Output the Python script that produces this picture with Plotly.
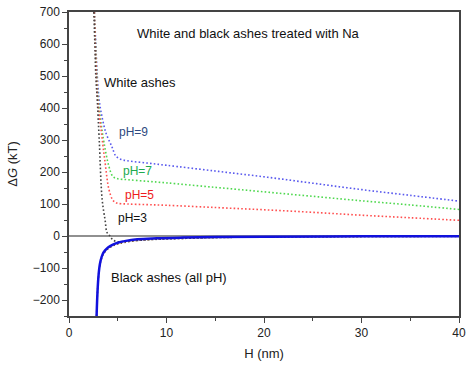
import plotly.graph_objects as go

# White ashes (dotted), H in nm, ΔG in kT
h_w9 = [2.6, 2.75, 2.9, 3.1, 3.4, 3.8, 4.4, 4.8, 5.3, 6, 8, 10, 15, 20, 25, 30, 35, 40]
g_w9 = [700, 600, 500, 424, 370, 321, 279, 250, 240, 235, 228, 221, 203, 185, 165, 145, 127, 109]

h_w7 = [2.6, 2.72, 2.85, 3.0, 3.3, 3.6, 4.1, 4.5, 5.0, 6, 8, 10, 15, 20, 25, 30, 35, 40]
g_w7 = [700, 600, 500, 424, 350, 290, 217, 186, 179, 176, 171, 166, 152, 138, 124, 110, 97, 83]

h_w5 = [2.6, 2.7, 2.82, 2.95, 3.3, 3.7, 4.1, 4.5, 4.9, 6, 8, 10, 15, 20, 25, 30, 35, 40]
g_w5 = [700, 600, 500, 424, 330, 230, 145, 112, 103, 100, 98, 96, 89, 82, 74, 65, 57, 49]

h_w3 = [2.55, 2.65, 2.75, 2.9, 3.1, 3.4, 3.7, 3.9, 4.2, 4.5, 5, 6, 8, 10, 15, 20, 30, 40]
g_w3 = [700, 600, 500, 424, 300, 114, 50, 11, 0, -12, -18, -16, -12, -9, -5, -3, -1.5, -0.8]

# Black ashes (all pH)
h_b = [2.83, 2.9, 3.0, 3.1, 3.25, 3.45, 3.7, 4.0, 4.5, 5.0, 5.7, 7, 9, 11.7, 15, 20, 30, 40]
g_b = [-250, -190, -135, -102, -76, -57, -45, -36, -27, -21, -16, -10, -7, -5, -3.5, -2.2, -1, -0.5]
g_b_low = [-250, -190, -136, -104, -79, -61, -49, -40, -31, -25, -20, -14, -10, -7.5, -5, -3.2, -1.8, -1]

fig = go.Figure()

dot_style = dict(dash="1.6px,2.2px", width=1.6)
fig.add_trace(go.Scatter(x=h_w9, y=g_w9, mode="lines", line=dict(color="#5a5aee", shape="spline", **dot_style)))
fig.add_trace(go.Scatter(x=h_w7, y=g_w7, mode="lines", line=dict(color="#4fd84f", shape="spline", **dot_style)))
fig.add_trace(go.Scatter(x=h_w5, y=g_w5, mode="lines", line=dict(color="#ff5050", shape="spline", **dot_style)))
fig.add_trace(go.Scatter(x=h_w3, y=g_w3, mode="lines", line=dict(color="#444444", shape="spline", **dot_style)))

# Black ash curves for the lower pH values sit just under the pH 9 one
fig.add_trace(go.Scatter(x=h_b, y=g_b_low, mode="lines", line=dict(color="#7a5230", shape="spline", **dot_style)))
fig.add_trace(go.Scatter(x=h_b, y=g_b, mode="lines", line=dict(color="#1111dd", width=2.5, shape="spline", smoothing=1.0)))

fig.add_shape(type="line", x0=0, x1=40, y0=0, y1=0, xref="x", yref="y",
              line=dict(color="#222222", width=1.2), layer="below")

font = "Liberation Sans, Arial, sans-serif"

labels = [
    (18.4, 632, "White and black ashes treated with Na", "#111111", 13, "center"),
    (3.42, 481, "White ashes", "#111111", 13, "left"),
    (4.93, 326, "pH=9", "#2f4a80", 12, "left"),
    (5.37, 202, "pH=7", "#20aa50", 12, "left"),
    (5.54, 129, "pH=5", "#ee1c1c", 12, "left"),
    (4.86, 57, "pH=3", "#111111", 12, "left"),
    (4.13, -129, "Black ashes (all pH)", "#111111", 13, "left"),
]
for x, y, t, c, s, a in labels:
    fig.add_annotation(x=x, y=y, text=t, showarrow=False, xanchor=a, yanchor="middle",
                       font=dict(family=font, size=s, color=c))

axis_common = dict(
    showgrid=False, zeroline=False, showline=True, linecolor="#444444", linewidth=1.5,
    mirror=True, ticks="outside", ticklen=5, tickwidth=1.2, tickcolor="#444444",
    tickfont=dict(family=font, size=12, color="#222222"),
)

fig.update_layout(
    width=471, height=367,
    margin=dict(l=69, r=5, t=11, b=51),
    plot_bgcolor="white", paper_bgcolor="white",
    showlegend=False,
    xaxis=dict(range=[0, 40], tickvals=[0, 10, 20, 30, 40],
               minor=dict(ticks="outside", ticklen=3, tickcolor="#444444", dtick=5, tick0=0),
               title=dict(text="H (nm)", font=dict(family=font, size=13, color="#222222"), standoff=10),
               **axis_common),
    yaxis=dict(range=[-250, 700], tickvals=[-200, -100, 0, 100, 200, 300, 400, 500, 600, 700],
               minor=dict(ticks="outside", ticklen=3, tickcolor="#444444", dtick=50, tick0=0),
               title=dict(text="Δ<i>G</i> (kT)", font=dict(family=font, size=13, color="#222222"), standoff=12),
               **axis_common),
)

fig.write_html("out.html")
